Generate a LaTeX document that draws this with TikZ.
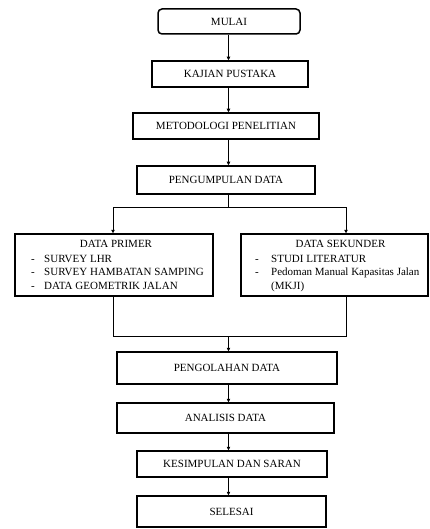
\documentclass[tikz,border=0pt]{standalone}
\usepackage{fontspec}
\setmainfont{Liberation Serif}
\usetikzlibrary{arrows.meta}
\begin{document}
\begin{tikzpicture}[x=1pt,y=-1pt,
  box/.style={draw, line width=1.5pt, inner sep=0pt, font=\fontsize{11}{13}\selectfont},
  conn/.style={line width=0.7pt, -{Triangle[length=3.5pt,width=3.5pt]}},
  wire/.style={line width=0.7pt},
  txt/.style={inner sep=0pt, anchor=west, text height=7.5pt, text depth=2.5pt, font=\fontsize{11}{13}\selectfont},
  ctxt/.style={inner sep=0pt, text height=7.5pt, text depth=2.5pt, font=\fontsize{11}{13}\selectfont}]
\useasboundingbox (0,0) rectangle (429,529);
\coordinate (spine) at (228.5,0);

\node[box, rounded corners=4pt, minimum width=142pt, minimum height=25pt] (mulai) at (229,21.5) {MULAI};
\node[box, minimum width=156pt, minimum height=26pt] (kajian) at (230,74) {KAJIAN PUSTAKA};
\node[box, minimum width=186pt, minimum height=26pt] (metodologi) at (226,126) {METODOLOGI PENELITIAN};
\node[box, minimum width=178pt, minimum height=28pt] (pengumpulan) at (226,180) {PENGUMPULAN DATA};

\node[box, minimum width=198pt, minimum height=62pt] (primer) at (114,265) {};
\node[box, minimum width=187pt, minimum height=62pt] (sekunder) at (334.5,265) {};

\node[ctxt] (primertitle) at (116,245) {DATA PRIMER};
\node[ctxt] (pd1) at (33,260) {-};
\node[txt] (p1) at (44,260) {SURVEY LHR};
\node[ctxt] (pd2) at (33,273) {-};
\node[txt] (p2) at (44,273) {SURVEY HAMBATAN SAMPING};
\node[ctxt] (pd3) at (33,287) {-};
\node[txt] (p3) at (44,287) {DATA GEOMETRIK JALAN};

\node[ctxt] (sekundertitle) at (340.5,245) {DATA SEKUNDER};
\node[ctxt] (sd1) at (257,260) {-};
\node[txt] (s1) at (271,260) {STUDI LITERATUR};
\node[ctxt] (sd2) at (257,273) {-};
\node[txt] (s2) at (271,273) {Pedoman Manual Kapasitas Jalan};
\node[txt] (s3) at (271,287) {(MKJI)};

\node[box, minimum width=220pt, minimum height=32pt] (pengolahan) at (227,368) {PENGOLAHAN DATA};
\node[box, minimum width=217pt, minimum height=30pt] (analisis) at (225.5,418) {ANALISIS DATA};
\node[box, minimum width=190pt, minimum height=26pt] (kesimpulan) at (232,464) {KESIMPULAN DAN SARAN};
\node[box, minimum width=189pt, minimum height=31pt] (selesai) at (231.5,511.5) {SELESAI};

\draw[conn] (mulai.south -| spine) -- (kajian.north -| spine);
\draw[conn] (kajian.south -| spine) -- (metodologi.north -| spine);
\draw[conn] (metodologi.south -| spine) -- (pengumpulan.north -| spine);

\coordinate (split) at (228.5,207);
\coordinate (bl) at (113,207);
\coordinate (br) at (346,207);
\draw[wire] (pengumpulan.south -| split) -- (split);
\draw[wire] (bl) -- (br);
\draw[conn] (bl) -- (bl |- primer.north);
\draw[conn] (br) -- (br |- sekunder.north);

\coordinate (ml) at (113,336);
\coordinate (mr) at (346,336);
\coordinate (merge) at (228.5,336);
\draw[wire] (ml |- primer.south) -- (ml) -- (mr) -- (mr |- sekunder.south);
\draw[conn] (merge) -- (merge |- pengolahan.north);

\draw[conn] (pengolahan.south -| spine) -- (analisis.north -| spine);
\draw[conn] (analisis.south -| spine) -- (kesimpulan.north -| spine);
\draw[conn] (kesimpulan.south -| spine) -- (selesai.north -| spine);
\end{tikzpicture}
\end{document}
